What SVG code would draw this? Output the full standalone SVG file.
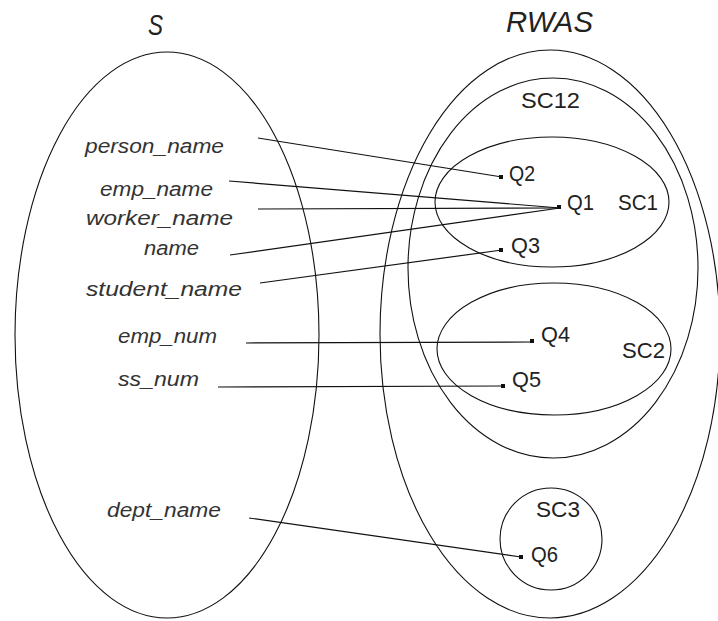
<svg xmlns="http://www.w3.org/2000/svg" width="718" height="621" viewBox="0 0 718 621">
  <style>
    .set { fill: none; stroke: #111; stroke-width: 1.1; }
    .conn { stroke: #111; stroke-width: 1.2; fill: none; }
    .pt { fill: #111; }
    .attr { font-family: "Liberation Sans", Arial, sans-serif; font-style: italic; font-size: 20px; fill: #333; }
    .lbl { font-family: "Liberation Sans", Arial, sans-serif; font-size: 22px; fill: #222; }
    .title { font-family: "Liberation Sans", Arial, sans-serif; font-style: italic; font-size: 29px; fill: #222; }
  </style>
  <rect width="718" height="621" fill="#fff"/>

  <!-- source schema S -->
  <g id="schema-S">
    <ellipse class="set" cx="167" cy="335" rx="152" ry="283"/>
    <text class="title" x="148" y="35" textLength="15" lengthAdjust="spacingAndGlyphs">S</text>
  </g>

  <!-- attributes of S -->
  <g id="attr-person_name"><text class="attr" x="85" y="153" textLength="139" lengthAdjust="spacingAndGlyphs">person_name</text></g>
  <g id="attr-emp_name"><text class="attr" x="100" y="196" textLength="113" lengthAdjust="spacingAndGlyphs">emp_name</text></g>
  <g id="attr-worker_name"><text class="attr" x="86" y="225" textLength="147" lengthAdjust="spacingAndGlyphs">worker_name</text></g>
  <g id="attr-name"><text class="attr" x="144" y="255" textLength="55" lengthAdjust="spacingAndGlyphs">name</text></g>
  <g id="attr-student_name"><text class="attr" x="86" y="296" textLength="156" lengthAdjust="spacingAndGlyphs">student_name</text></g>
  <g id="attr-emp_num"><text class="attr" x="118" y="343" textLength="99" lengthAdjust="spacingAndGlyphs">emp_num</text></g>
  <g id="attr-ss_num"><text class="attr" x="118" y="386" textLength="81" lengthAdjust="spacingAndGlyphs">ss_num</text></g>
  <g id="attr-dept_name"><text class="attr" x="107" y="517" textLength="114" lengthAdjust="spacingAndGlyphs">dept_name</text></g>

  <!-- RWAS and its sub-clusters -->
  <g id="RWAS">
    <ellipse class="set" cx="550" cy="334" rx="170" ry="284"/>
    <text class="title" x="506" y="32" textLength="87" lengthAdjust="spacingAndGlyphs">RWAS</text>
  </g>
  <g id="SC12">
    <ellipse class="set" cx="553" cy="268" rx="145" ry="190"/>
    <text class="lbl" x="521" y="108" textLength="59" lengthAdjust="spacingAndGlyphs">SC12</text>
  </g>
  <g id="SC1">
    <ellipse class="set" cx="552" cy="202" rx="117" ry="65"/>
    <text class="lbl" x="618" y="210" textLength="40" lengthAdjust="spacingAndGlyphs">SC1</text>
  </g>
  <g id="SC2">
    <ellipse class="set" cx="554" cy="349" rx="117" ry="66"/>
    <text class="lbl" x="622" y="358" textLength="43" lengthAdjust="spacingAndGlyphs">SC2</text>
  </g>
  <g id="SC3">
    <circle class="set" cx="551" cy="539" r="51"/>
    <text class="lbl" x="536" y="517" textLength="44" lengthAdjust="spacingAndGlyphs">SC3</text>
  </g>

  <!-- query points -->
  <g id="Q1"><rect class="pt" x="557" y="205" width="4" height="4"/><text class="lbl" x="567" y="210" textLength="27" lengthAdjust="spacingAndGlyphs">Q1</text></g>
  <g id="Q2"><rect class="pt" x="499" y="175" width="4" height="4"/><text class="lbl" x="509" y="181" textLength="26" lengthAdjust="spacingAndGlyphs">Q2</text></g>
  <g id="Q3"><rect class="pt" x="499" y="248" width="4" height="4"/><text class="lbl" x="511" y="253" textLength="29" lengthAdjust="spacingAndGlyphs">Q3</text></g>
  <g id="Q4"><rect class="pt" x="530" y="339" width="4" height="4"/><text class="lbl" x="541" y="342" textLength="29" lengthAdjust="spacingAndGlyphs">Q4</text></g>
  <g id="Q5"><rect class="pt" x="501" y="384" width="4" height="4"/><text class="lbl" x="512" y="387" textLength="29" lengthAdjust="spacingAndGlyphs">Q5</text></g>
  <g id="Q6"><rect class="pt" x="519" y="555" width="4" height="4"/><text class="lbl" x="531" y="562" textLength="27" lengthAdjust="spacingAndGlyphs">Q6</text></g>

  <!-- attribute-to-query mappings -->
  <g id="connectors">
    <line class="conn" x1="258" y1="138" x2="502" y2="177"/>
    <line class="conn" x1="229" y1="181" x2="560" y2="208"/>
    <line class="conn" x1="258" y1="209" x2="560" y2="208"/>
    <line class="conn" x1="230" y1="255" x2="560" y2="208"/>
    <line class="conn" x1="260" y1="283" x2="502" y2="250"/>
    <line class="conn" x1="246" y1="343" x2="532" y2="342"/>
    <line class="conn" x1="218" y1="387" x2="503" y2="386"/>
    <line class="conn" x1="249" y1="518" x2="521" y2="557"/>
  </g>
</svg>
